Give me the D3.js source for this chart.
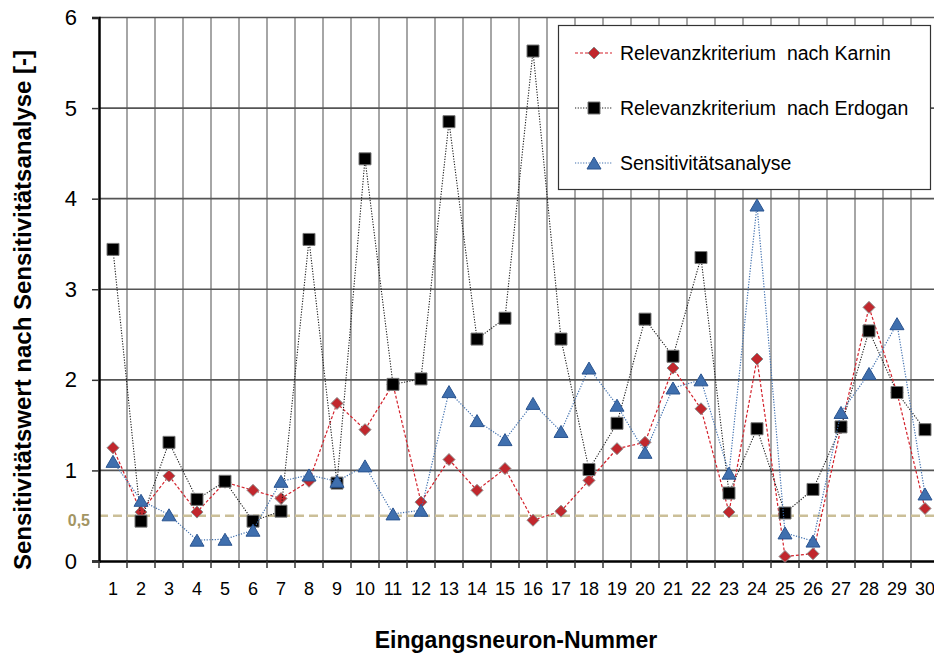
<!DOCTYPE html>
<html><head><meta charset="utf-8">
<script src="https://cdn.jsdelivr.net/npm/d3@7"></script>
<style>
html,body{margin:0;padding:0;background:#fff;}
svg{display:block;font-family:Arial,"Liberation Sans",sans-serif;}
</style></head>
<body>
<svg id="chart" width="934" height="653"></svg>
<script>
const categories = [1,2,3,4,5,6,7,8,9,10,11,12,13,14,15,16,17,18,19,20,21,22,23,24,25,26,27,28,29,30];
const karnin  = [1.25,0.54,0.94,0.54,0.87,0.78,0.69,0.88,1.74,1.45,1.95,0.65,1.12,0.78,1.02,0.45,0.55,0.89,1.24,1.31,2.13,1.68,0.54,2.23,0.05,0.08,1.47,2.80,1.86,0.58];
const erdogan = [3.44,0.44,1.31,0.68,0.88,0.44,0.55,3.55,0.86,4.44,1.95,2.01,4.85,2.45,2.68,5.63,2.45,1.01,1.52,2.67,2.26,3.35,0.75,1.46,0.53,0.79,1.48,2.54,1.86,1.45];
const sens    = [1.10,0.67,0.51,0.23,0.24,0.34,0.88,0.95,0.88,1.05,0.52,0.56,1.87,1.55,1.34,1.74,1.43,2.13,1.72,1.20,1.91,2.00,0.97,3.93,0.31,0.22,1.64,2.07,2.62,0.74];
const yTicks = [0,1,2,3,4,5,6];
const refValue = 0.5;
const refLabel = "0,5";
const seriesNames = ["Relevanzkriterium  nach Karnin","Relevanzkriterium  nach Erdogan","Sensitivitätsanalyse"];
const xTitle = "Eingangsneuron-Nummer";
const yTitle = "Sensitivitätswert nach Sensitivitätsanalyse [-]";

const svg = d3.select("#chart");
const pLeft = 99, pRight = 939, pTop = 17.5, pBottom = 561;

const x = d3.scaleBand().domain(categories).range([pLeft, pRight]).padding(0);
const y = d3.scaleLinear().domain([0, 6]).range([pBottom, pTop]);

// vertical grid (category boundaries)
const g = svg.append("g");
categories.forEach((c, i) => {
  if (i === 0) return;
  const xx = x(c);
  g.append("line").attr("x1", xx).attr("x2", xx).attr("y1", pTop).attr("y2", pBottom)
    .attr("stroke", "#a6a6a6").attr("stroke-width", 2);
});
// horizontal grid
yTicks.forEach(t => {
  if (t === 0) return;
  g.append("line").attr("x1", pLeft).attr("x2", pRight).attr("y1", y(t)).attr("y2", y(t))
    .attr("stroke", "#555").attr("stroke-width", 1.6);
});

// reference line
svg.append("line").attr("x1", pLeft).attr("x2", pRight).attr("y1", y(refValue)).attr("y2", y(refValue))
  .attr("stroke", "#cbbf98").attr("stroke-width", 2.5).attr("stroke-dasharray", "9,5");
svg.append("text").attr("x", 90).attr("y", y(refValue) + 10).attr("text-anchor", "end")
  .attr("font-size", 16).attr("font-weight", "bold").attr("fill", "#a39563").text(refLabel);

// y axis
const yAxis = d3.axisLeft(y).tickValues(yTicks).tickSize(7).tickPadding(15).tickFormat(d3.format("d"));
const ya = svg.append("g").attr("transform", `translate(${pLeft},0)`).call(yAxis);
ya.select(".domain").attr("stroke", "#000").attr("stroke-width", 2.5);
ya.selectAll(".tick line").attr("stroke", "#333").attr("stroke-width", 1.5);
ya.selectAll(".tick text").attr("font-size", 22).attr("font-family", "Arial, 'Liberation Sans', sans-serif").attr("fill", "#000");

// x axis
const xAxis = d3.axisBottom(x).tickSize(0).tickPadding(21);
const xa = svg.append("g").attr("transform", `translate(0,${pBottom})`).call(xAxis);
xa.select(".domain").attr("stroke", "#000").attr("stroke-width", 2.5);
xa.selectAll(".tick text").attr("font-size", 18).attr("font-family", "Arial, 'Liberation Sans', sans-serif").attr("fill", "#000");
categories.forEach(c => {
  xa.append("line").attr("x1", x(c)).attr("x2", x(c)).attr("y1", 0).attr("y2", 7)
    .attr("stroke", "#333").attr("stroke-width", 1.5);
});

// titles
svg.append("text").attr("x", 516).attr("y", 648).attr("text-anchor", "middle")
  .attr("font-size", 23).attr("font-weight", "bold").text(xTitle);
svg.append("text").attr("transform", "translate(31,310) rotate(-90)").attr("text-anchor", "middle")
  .attr("font-size", 24).attr("font-weight", "bold").text(yTitle);

// symbols
function diamond(s) { return `M0,${-s}L${s},0L0,${s}L${-s},0Z`; }
function square(s) { return `M${-s},${-s}H${s}V${s}H${-s}Z`; }
function triangle(w, h) { return `M0,${-h/2}L${w/2},${h/2}L${-w/2},${h/2}Z`; }

const series = [
  { name: seriesNames[0], data: karnin, line: "#d3212b", dash: "3,2", lw: 1.2,
    sym: diamond(6), fill: "#c1272d", stroke: "#8c8c8c", sw: 1 },
  { name: seriesNames[1], data: erdogan, line: "#1a1a1a", dash: "1.2,1.5", lw: 1.1,
    sym: square(6), fill: "#000", stroke: "#777", sw: 1 },
  { name: seriesNames[2], data: sens, line: "#3f6fae", dash: "1.2,1.5", lw: 1.2,
    sym: triangle(14, 12), fill: "#3f6fae", stroke: "#2a5490", sw: 1 }
];

const cx = c => x(c) + x.bandwidth() / 2;
const lineGen = d3.line().x((d, i) => cx(categories[i])).y(d => y(d));

series.forEach(s => {
  svg.append("path").datum(s.data).attr("d", lineGen).attr("fill", "none")
    .attr("stroke", s.line).attr("stroke-width", s.lw).attr("stroke-dasharray", s.dash);
  svg.append("g").selectAll("path").data(s.data).join("path")
    .attr("d", s.sym)
    .attr("transform", (d, i) => `translate(${cx(categories[i])},${y(d)})`)
    .attr("fill", s.fill).attr("stroke", s.stroke).attr("stroke-width", s.sw);
});

// legend
const lg = svg.append("g");
lg.append("rect").attr("x", 558.5).attr("y", 25.5).attr("width", 372).attr("height", 164)
  .attr("fill", "#fff").attr("stroke", "#333").attr("stroke-width", 1.2);
const ly = [53, 108, 163];
series.forEach((s, i) => {
  lg.append("line").attr("x1", 575).attr("x2", 612).attr("y1", ly[i]).attr("y2", ly[i])
    .attr("stroke", s.line).attr("stroke-width", s.lw).attr("stroke-dasharray", s.dash);
  lg.append("path").attr("d", s.sym).attr("transform", `translate(594,${ly[i]})`)
    .attr("fill", s.fill).attr("stroke", s.stroke).attr("stroke-width", s.sw);
  lg.append("text").attr("x", 620).attr("y", ly[i] + 7).attr("font-size", 19.5)
    .attr("xml:space", "preserve").style("white-space", "pre").text(s.name);
});
</script>
</body></html>
